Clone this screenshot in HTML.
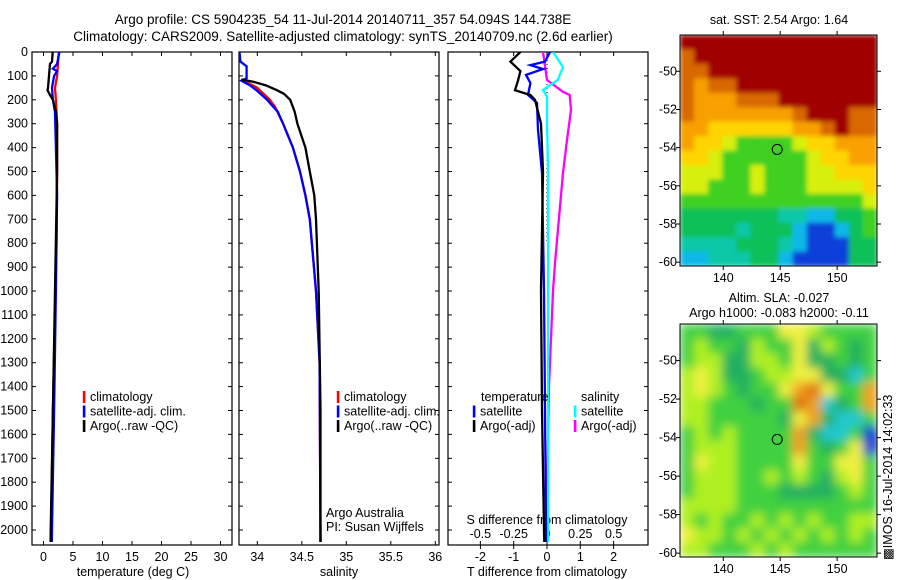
<!DOCTYPE html>
<html><head><meta charset="utf-8"><style>
html,body{margin:0;padding:0;background:#fff;}
svg{display:block;font-family:"Liberation Sans",sans-serif;}
text{font-size:12.5px;fill:#000;}
</style></head><body>
<svg id="chart" width="900" height="580" viewBox="0 0 900 580" xmlns="http://www.w3.org/2000/svg">
<defs>
<filter id="blurSla" x="0" y="0" width="1" height="1"><feGaussianBlur stdDeviation="5" edgeMode="duplicate"/></filter>
<filter id="blurSst" x="0" y="0" width="1" height="1"><feGaussianBlur stdDeviation="2.5" edgeMode="duplicate"/></filter>
</defs>
<rect width="900" height="580" fill="#fff"/>
<text x="343" y="24" text-anchor="middle" style="font-size:13.5px">Argo profile: CS 5904235_54 11-Jul-2014 20140711_357 54.094S 144.738E</text>
<text x="343" y="41" text-anchor="middle" style="font-size:13.5px">Climatology: CARS2009. Satellite-adjusted climatology: synTS_20140709.nc (2.6d earlier)</text>
<g id="g-main"></g>
<text x="779" y="24" text-anchor="middle">sat. SST: 2.54 Argo: 1.64</text>
<text x="779" y="302" text-anchor="middle">Altim. SLA: -0.027</text>
<text x="779" y="317" text-anchor="middle">Argo h1000: -0.083 h2000: -0.11</text>
<text transform="translate(892,560) rotate(-90)">&#9641;IMOS 16-Jul-2014 14:02:33</text>
</svg>
<script>
// ---- profile data ----
const depthTicks = [0,100,200,300,400,500,600,700,800,900,1000,1100,1200,1300,1400,1500,1600,1700,1800,1900,2000];
const tempTicks = [0,5,10,15,20,25,30];
const salTicks = [34,34.5,35,35.5,36];
const tdiffTicks = [-2,-1,0,1,2];
const sdiffTicks = [-0.5,-0.25,0,0.25,0.5];
const sdiffTickLabels = ["-0.5","-0.25","0","0.25","0.5"];

const tArgoDepth = [0,40,50,100,150,160,180,200,250,300,500,1000,1500,2000,2050];
const tArgoVal   = [1.56,1.44,1.1,0.93,0.76,0.68,1.1,1.6,2.1,2.3,2.3,1.95,1.6,1.22,1.2];
const tClimDepth = [0,100,150,200,300,500,800,1500,2050];
const tClimVal   = [2.6,2.3,1.95,2.1,2.3,2.3,2.2,1.6,1.27];
const tSatDepth  = [0,50,70,80,100,150,200,250,400,600,1000,1500,2000,2050];
const tSatVal    = [2.7,2.3,1.6,2.3,1.8,1.44,1.6,1.95,2.1,2.3,2.1,1.8,1.44,1.4];

const sArgoDepth = [115,125,140,160,175,200,250,300,400,500,600,700,1000,1500,2000,2050];
const sArgoVal   = [33.82,33.96,34.1,34.22,34.3,34.37,34.42,34.45,34.54,34.59,34.64,34.66,34.69,34.71,34.71,34.71];
const sClimDepth = [115,130,150,200,230,300,400,500,600,700,1000,1300,2050];
const sClimVal   = [33.82,33.9,34.0,34.14,34.2,34.29,34.4,34.48,34.54,34.59,34.66,34.7,34.71];
const sSatDepth  = [0,40,60,80,110,120,140,160,200,250,300,400,500,600,700,1000,1300,2050];
const sSatVal    = [33.8,33.81,33.88,33.88,33.88,33.82,33.92,33.99,34.11,34.23,34.29,34.4,34.48,34.54,34.59,34.66,34.7,34.71];

const dTArgoDepth = [0,40,80,120,160,180,200,300,500,1000,1500,2000,2050];
const dTArgoVal   = [-0.8,-1.1,-0.8,-0.87,-0.96,-0.5,-0.36,-0.18,-0.12,-0.18,-0.15,-0.09,-0.08];
const dTSatDepth  = [0,40,55,71,96,130,180,213,326,506,1000,2000,2050];
const dTSatVal    = [0.09,-0.06,-0.5,-0.12,-0.63,-0.5,-0.57,-0.3,-0.27,-0.15,-0.09,-0.03,-0.03];
const dSSatDepth  = [0,63,117,159,188,300,500,1000,2000,2050];
const dSSatVal    = [0.045,0.12,0.08,-0.03,0.0,0.0,0.008,0.008,0.008,0.008];
const dSArgoDepth = [0,117,167,180,243,368,506,883,1000,1400,1900,2050];
const dSArgoVal   = [-0.03,0.0,0.12,0.17,0.18,0.15,0.12,0.06,0.045,0.015,0.0,0.0];

// ---- map data (gridded levels) ----
const sstRows = [
"99999999999999","89999999999999","88999999999999","87889999999999",
"87778889999999","87777777899988","77666666778988","76654444566777",
"66544444456677","55544544455666","55444544455556","44444444444445",
"33333332211334","33332333100134","22223332100033","11222331000033"];
const slaRows = [
"33223335543333","34332433524323","34422443522323","45422344552213",
"45432335675336","44333233761236","44333332562113","34343333621130",
"34443333632350","35443333533553","34443343432453","34443332222343",
"44443333333333","43433434343344","54434343434343","44333434333333"];
const lonTicks = [140,145,150];
const latTicks = [-50,-52,-54,-56,-58,-60];
const argoLon = 144.738, argoLat = -54.094;

const sstColors = ["#1040d8","#10b8e8","#10c8a8","#10c058","#40d020","#d8f010","#ffd400","#f8a000","#d86800","#a00000"];
const slaColors = ["#0030d0","#20c8d0","#20b060","#40d040","#b0f020","#f0f040","#f0a020","#e07010"];

const NS="http://www.w3.org/2000/svg";
const g=document.getElementById('g-main');
function mk(tag,attrs,parent){const e=document.createElementNS(NS,tag);for(const k in attrs)e.setAttribute(k,attrs[k]);(parent||g).appendChild(e);return e;}
function txt(s,x,y,anchor,parent){const t=mk('text',{x:x,y:y,'text-anchor':anchor||'start'},parent);t.textContent=s;return t;}

const yTop=52, yBot=545, pxPerM=0.239;
const yD = d => yTop + d*pxPerM;
const xT = t => 43.5 + t*5.9;
const xS = s => 257.3 + (s-34)*89;
const xDT = v => 547 + v*33.3;
const xDS = v => 547 + v*133.3;

const panels=[{x0:32,x1:232,name:'temperature-panel'},{x0:239,x1:439,name:'salinity-panel'},{x0:448,x1:648,name:'difference-panel'}];
panels.forEach((p,i)=>{
  const clip=mk('clipPath',{id:'clip'+i});
  mk('rect',{x:p.x0,y:yTop,width:p.x1-p.x0,height:yBot-yTop},clip);
  const b=mk('rect',{x:p.x0,y:yTop,width:p.x1-p.x0,height:yBot-yTop,fill:'none',stroke:'#000','stroke-width':1.2});
  
  
  depthTicks.forEach(d=>{
    mk('line',{x1:p.x0,x2:p.x0+4,y1:yD(d),y2:yD(d),stroke:'#000'});
    mk('line',{x1:p.x1-4,x2:p.x1,y1:yD(d),y2:yD(d),stroke:'#000'});
  });
});
depthTicks.forEach(d=>{
  const t=txt(String(d),28,yD(d)+4,'end');
  
  
});
function xticks(ticks,fx,labels,ly,inside){
  ticks.forEach((v,i)=>{
    const x=fx(v);
    if(inside){mk('line',{x1:x,x2:x,y1:yBot-4,y2:yBot,stroke:'#000'});mk('line',{x1:x,x2:x,y1:yTop,y2:yTop+4,stroke:'#000'});}
    else mk('line',{x1:x,x2:x,y1:yBot,y2:yBot+4,stroke:'#000'});
    const t=txt(labels?labels[i]:String(v),x,ly,'middle');
    
    
  });
}
xticks(tempTicks,xT,null,561,true);
xticks(salTicks,xS,null,561,true);
xticks(tdiffTicks,xDT,null,561,false);
xticks(sdiffTicks,xDS,sdiffTickLabels,538,true);
[[ 'temperature (deg C)',133,576,'temperature-axis-title'],['salinity',339,576,'salinity-axis-title'],['T difference from climatology',547,576,'tdiff-axis-title'],['S difference from climatology',547,524,'sdiff-axis-title']].forEach(a=>{
  const t=txt(a[0],a[1],a[2],'middle');
  
  
});

function line(ds,vs,fx,color,clipI,name,w){
  const pts=ds.map((d,i)=>fx(vs[i]).toFixed(1)+','+yD(d).toFixed(1)).join(' ');
  const l=mk('polyline',{points:pts,fill:'none',stroke:color,'stroke-width':w||2.3,'clip-path':'url(#clip'+clipI+')','stroke-linejoin':'miter'});
  
  
}
line(tClimDepth,tClimVal,xT,'#ff0000',0,'temp-climatology-line');
line(tSatDepth,tSatVal,xT,'#0000ff',0,'temp-satellite-line');
line(tArgoDepth,tArgoVal,xT,'#000000',0,'temp-argo-line');
line(sClimDepth,sClimVal,xS,'#ff0000',1,'sal-climatology-line');
line(sSatDepth,sSatVal,xS,'#0000ff',1,'sal-satellite-line');
line(sArgoDepth,sArgoVal,xS,'#000000',1,'sal-argo-line');
const zl=mk('line',{x1:xDT(0),x2:xDT(0),y1:yD(0),y2:yD(800),stroke:'#000','stroke-dasharray':'1,3'});


line(dSArgoDepth,dSArgoVal,xDS,'#ff00ff',2,'sdiff-argo-line');
line(dSSatDepth,dSSatVal,xDS,'#00ffff',2,'sdiff-satellite-line');
line(dTSatDepth,dTSatVal,xDT,'#0000ff',2,'tdiff-satellite-line');
line(dTArgoDepth,dTArgoVal,xDT,'#000000',2,'tdiff-argo-line');

function legend(x,y,color,label){
  const m=mk('rect',{x:x-1.2,y:y-10,width:2.6,height:12,fill:color});
  
  
  const t=txt(label,x+6,y);
  
  
}
[[84,'#ff0000','climatology'],[84,'#0000ff','satellite-adj. clim.'],[84,'#000','Argo(..raw -QC)']].forEach((e,i)=>legend(e[0],401+i*14.5,e[1],e[2]));
[[338,'#ff0000','climatology'],[338,'#0000ff','satellite-adj. clim.'],[338,'#000','Argo(..raw -QC)']].forEach((e,i)=>legend(e[0],401+i*14.5,e[1],e[2]));
let t1=txt('temperature',481,401);
let t2=txt('salinity',581,401);
legend(474,415.5,'#0000ff','satellite');legend(474,430,'#000','Argo(-adj)');
legend(575,415.5,'#00ffff','satellite');legend(575,430,'#ff00ff','Argo(-adj)');
let a1=txt('Argo Australia',326,517);
let a2=txt('PI: Susan Wijffels',326,531);

// ---- maps ----
function drawMap(rows,colors,top,bot,name,filterId){
  const x0=680,x1=877;
  const lonMin=136.2, lonMax=153.5, latMin=-60.2, latMax=-48.1;
  const lx=lon=>x0+(lon-lonMin)/(lonMax-lonMin)*(x1-x0);
  const ly=lat=>bot-(lat-latMin)/(latMax-latMin)*(bot-top);
  const nr=rows.length,nc=rows[0].length,cw=(x1-x0)/nc,ch=(bot-top)/nr;
  const clip=mk('clipPath',{id:'clip-'+name});
  mk('rect',{x:x0,y:top,width:x1-x0,height:bot-top},clip);
  const outer=mk('g',{'clip-path':'url(#clip-'+name+')'});
  const cells=mk('g',{filter:'url(#'+filterId+')'},outer);
  rows.forEach((r,i)=>{for(let j=0;j<nc;j++){
    const c=mk('rect',{x:(x0+j*cw).toFixed(2),y:(top+i*ch).toFixed(2),width:(cw+0.6).toFixed(2),height:(ch+0.6).toFixed(2),fill:colors[+r[j]]},cells);
    
    
  }});
  const f=mk('rect',{x:x0,y:top,width:x1-x0,height:bot-top,fill:'none',stroke:'#000'});
  
  
  lonTicks.forEach(v=>{const x=lx(v);mk('line',{x1:x,x2:x,y1:bot,y2:bot+4,stroke:'#000'});mk('line',{x1:x,x2:x,y1:top-4,y2:top,stroke:'#000'});
    const t=txt(String(v),x,bot+16,'middle');});
  latTicks.forEach(v=>{const y=ly(v);mk('line',{x1:x0-4,x2:x0,y1:y,y2:y,stroke:'#000'});mk('line',{x1:x1,x2:x1+4,y1:y,y2:y,stroke:'#000'});
    const t=txt(String(v),x0-3,y+4,'end');});
  const c=mk('circle',{cx:lx(argoLon),cy:ly(argoLat),r:5,fill:'none',stroke:'#000','stroke-width':1});
  
  
}
drawMap(sstRows,sstColors,35,266,'sst-map','blurSst');
drawMap(slaRows,slaColors,324,557,'sla-map','blurSla');
</script>
</body></html>
